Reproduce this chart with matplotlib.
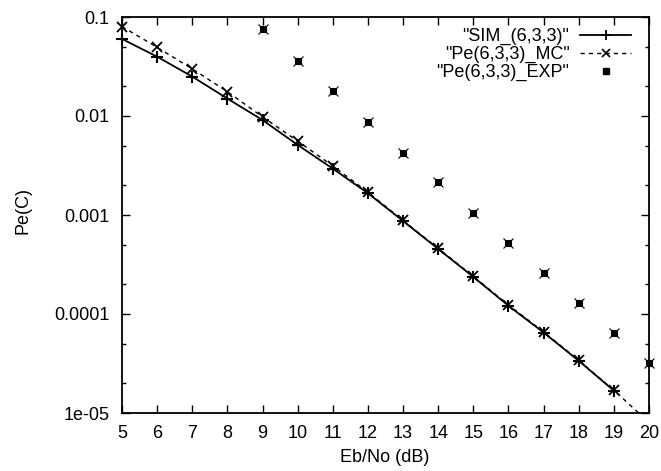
import numpy as np
import matplotlib
matplotlib.use("Agg")
import matplotlib.pyplot as plt
from matplotlib.ticker import FixedLocator, FixedFormatter, NullFormatter

plt.rcParams['font.family'] = ['Liberation Sans', 'DejaVu Sans']

# ---- data ----
sim_x = [5, 6, 7, 8, 9, 10, 11, 12, 13, 14, 15, 16, 17, 18, 19]
sim_y = [0.060, 0.0397, 0.0250, 0.0150, 0.0091, 0.0051, 0.00294, 0.00166,
         0.000869, 0.000454, 0.000237, 0.000121, 6.5e-5, 3.37e-5, 1.68e-5]

mc_x = [5, 6, 7, 8, 9, 10, 11, 12, 13, 14, 15, 16, 17, 18, 19, 20]
mc_y = [0.080, 0.0494, 0.0299, 0.0176, 0.0098, 0.00558, 0.00313, 0.00170,
        0.000880, 0.000460, 0.000240, 0.000123, 6.6e-5, 3.4e-5, 1.70e-5, 8.0e-6]

exp_x = [9, 10, 11, 12, 13, 14, 15, 16, 17, 18, 19, 20]
exp_y = [0.075, 0.0362, 0.018, 0.00877, 0.00426, 0.00214, 0.00105,
         0.000518, 0.000258, 0.000128, 6.4e-5, 3.2e-5]

labels = ['"SIM_(6,3,3)"', '"Pe(6,3,3)_MC"', '"Pe(6,3,3)_EXP"']
x_ticks = list(range(5, 21))
y_ticks = [1e-5, 1e-4, 1e-3, 1e-2, 1e-1]
y_ticklabels = ['1e-05', '0.0001', '0.001', '0.01', '0.1']
y_minor = [m * 10.0 ** e for e in range(-5, -1) for m in (2, 5)]

fig = plt.figure(figsize=(6.61, 4.71), dpi=100)
ax = fig.add_axes([122 / 661, 1 - 413 / 471, (649 - 122) / 661, (413 - 17) / 471])
ax.set_yscale('log')
ax.set_xlim(5, 20)
ax.set_ylim(1e-5, 0.1)

ymin, ymax = 1e-5, 0.1

def inrange(xs, ys):
    xs = np.asarray(xs, float); ys = np.asarray(ys, float)
    m = (ys >= ymin * 0.999) & (ys <= ymax * 1.001)
    return xs[m], ys[m]

# SIM: solid with +
ax.plot(sim_x, sim_y, '-', color='black', lw=1.3)
sx, sy = inrange(sim_x, sim_y)
ax.plot(sx, sy, ls='none', marker='+', ms=8, mew=1.5, color='black', clip_on=False)

# MC: dashed with x
ax.plot(mc_x, mc_y, ls=(0, (3, 3)), color='black', lw=1.0)
mx, my = inrange(mc_x, mc_y)
ax.plot(mx, my, ls='none', marker='x', ms=7, mew=1.3, color='black', clip_on=False)

# EXP: points
ex, ey = inrange(exp_x, exp_y)
ax.plot(ex, ey, ls='none', marker='s', ms=5, mew=0.8, color='black', clip_on=False)
ax.plot(ex, ey, ls='none', marker='x', ms=7, mew=0.8, color='black', clip_on=False)

# legend handles
h1, = ax.plot([], [], '-', color='black', lw=1.3, marker='+', ms=7, mew=1.3)
h2, = ax.plot([], [], ls=(0, (3, 3)), color='black', lw=1.0, marker='x', ms=6, mew=1.2)
h3, = ax.plot([], [], ls='none', color='black', marker='s', ms=5)
leg = ax.legend([h1, h2, h3], labels, loc='upper right', frameon=False,
                markerfirst=False, fontsize=13, handlelength=2.8, labelspacing=0.05,
                borderaxespad=0.4, handletextpad=0.6, numpoints=1,
                bbox_to_anchor=(0.993, 1.009))
for t in leg.get_texts():
    t.set_ha('right')
leg._legend_box.align = 'right'

ax.xaxis.set_major_locator(FixedLocator(x_ticks))
ax.set_xticklabels([str(v) for v in x_ticks])
ax.yaxis.set_major_locator(FixedLocator(y_ticks))
ax.yaxis.set_major_formatter(FixedFormatter(y_ticklabels))
ax.yaxis.set_minor_locator(FixedLocator(y_minor))
ax.yaxis.set_minor_formatter(NullFormatter())
ax.xaxis.set_minor_locator(FixedLocator([]))

ax.tick_params(which='both', direction='in', top=True, right=True, colors='black', width=1.0)
ax.tick_params(which='major', length=6)
ax.tick_params(which='minor', length=3)
ax.tick_params(axis='x', which='major', pad=9, labelsize=13)
ax.tick_params(axis='y', which='major', pad=9, labelsize=13)

for s in ax.spines.values():
    s.set_linewidth(1.3)
    s.set_color('black')

fig.text(385 / 661, 1 - 458 / 471, 'Eb/No (dB)', ha='center', va='center', fontsize=13)
fig.text(23 / 661, 1 - 210 / 471, 'Pe(C)', ha='center', va='center', rotation=90, fontsize=13)

fig.savefig('out.png', dpi=100)
